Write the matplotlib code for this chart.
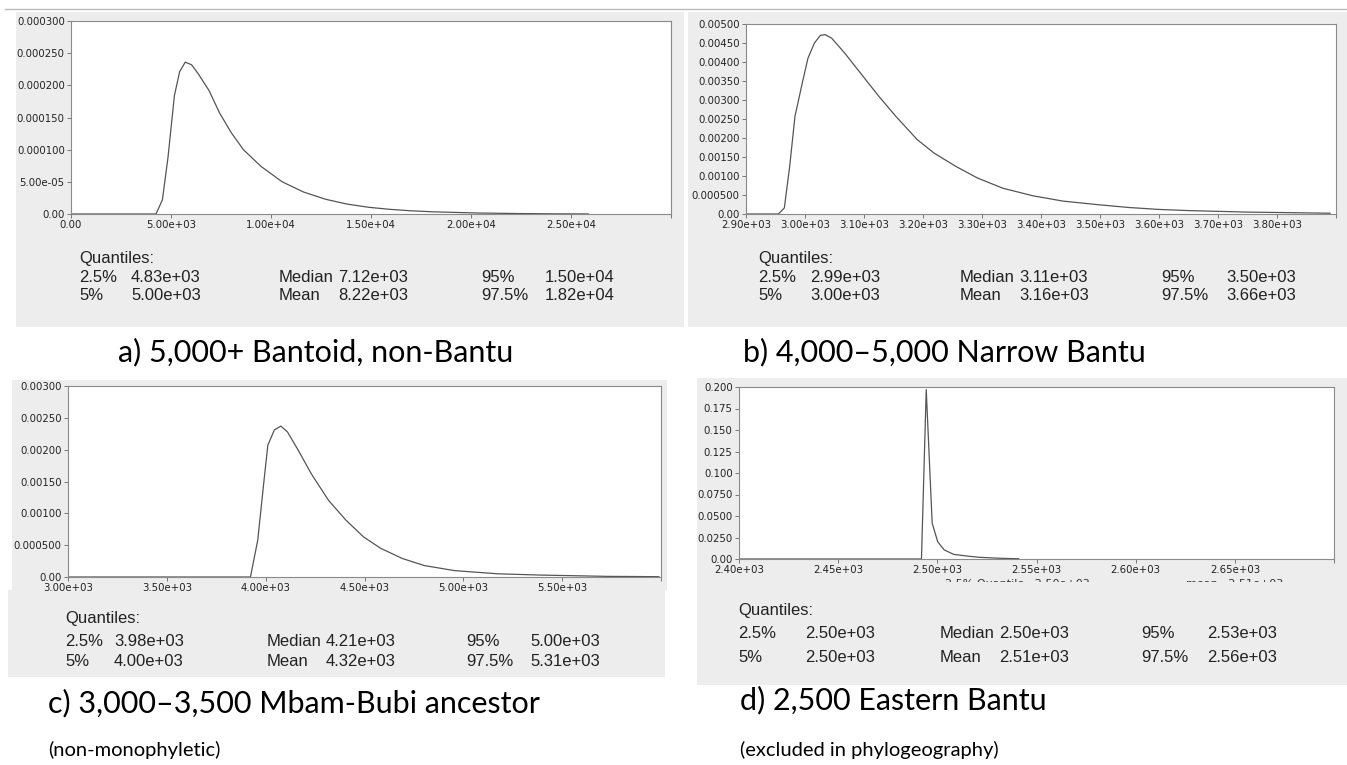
import matplotlib
matplotlib.use('Agg')
import matplotlib.pyplot as plt
from matplotlib.patches import Rectangle
from matplotlib.transforms import Bbox, TransformedBbox

W, H = 1347, 765

# a) 5,000+ Bantoid, non-Bantu
a_years = [0, 4250, 4570, 4850, 5170, 5430, 5710, 6030, 6360, 6900, 7430, 8000, 8620, 9500,
           10560, 11640, 12720, 13790, 14870, 15950, 17000, 18100, 20260, 22410, 24000, 25860]
a_density = [0, 0, 2.2e-5, 8.8e-5, 1.84e-4, 2.21e-4, 2.36e-4, 2.32e-4, 2.18e-4, 1.92e-4, 1.57e-4,
             1.27e-4, 1.00e-4, 7.4e-5, 5.0e-5, 3.4e-5, 2.3e-5, 1.55e-5, 1.05e-5, 7.2e-6, 5.0e-6,
             3.4e-6, 1.6e-6, 7e-7, 3e-7, 1e-7]
a_xticks = [0, 5000, 10000, 15000, 20000, 25000, 30000]
a_xlabels = ['0.00', '5.00e+03', '1.00e+04', '1.50e+04', '2.00e+04', '2.50e+04', '']
a_yticks = [0, 5e-5, 1e-4, 1.5e-4, 2e-4, 2.5e-4, 3e-4]
a_ylabels = ['0.00', '5.00e-05', '0.000100', '0.000150', '0.000200', '0.000250', '0.000300']
a_quant = [['2.5%', '4.83e+03', 'Median', '7.12e+03', '95%', '1.50e+04'],
           ['5%', '5.00e+03', 'Mean', '8.22e+03', '97.5%', '1.82e+04']]

# b) 4,000-5,000 Narrow Bantu
b_years = [2900, 2955, 2965, 2974, 2983, 2996, 3005, 3016, 3026, 3034, 3045, 3067, 3096, 3125,
           3154, 3190, 3219, 3256, 3292, 3335, 3386, 3437, 3500, 3550, 3600, 3650, 3700, 3750,
           3800, 3890]
b_density = [0, 0, 0.00016, 0.00125, 0.00257, 0.00349, 0.0041, 0.0045, 0.0047, 0.00472, 0.00463,
             0.00424, 0.00367, 0.0031, 0.00257, 0.00196, 0.0016, 0.00125, 0.00095, 0.00068,
             0.00048, 0.00034, 0.00024, 0.00017, 0.00012, 0.00009, 0.00007, 0.00005, 0.00004,
             0.00002]
b_xticks = [2900, 3000, 3100, 3200, 3300, 3400, 3500, 3600, 3700, 3800, 3900]
b_xlabels = ['2.90e+03', '3.00e+03', '3.10e+03', '3.20e+03', '3.30e+03', '3.40e+03',
             '3.50e+03', '3.60e+03', '3.70e+03', '3.80e+03', '']
b_yticks = [0, 0.0005, 0.001, 0.0015, 0.002, 0.0025, 0.003, 0.0035, 0.004, 0.0045, 0.005]
b_ylabels = ['0.00', '0.000500', '0.00100', '0.00150', '0.00200', '0.00250', '0.00300',
             '0.00350', '0.00400', '0.00450', '0.00500']
b_quant = [['2.5%', '2.99e+03', 'Median', '3.11e+03', '95%', '3.50e+03'],
           ['5%', '3.00e+03', 'Mean', '3.16e+03', '97.5%', '3.66e+03']]

# c) 3,000-3,500 Mbam-Bubi ancestor
c_years = [3000, 3923, 3960, 3989, 4011, 4044, 4077, 4110, 4165, 4231, 4319, 4407, 4495, 4582,
           4692, 4802, 4956, 5176, 5396, 5725, 5989]
c_density = [0, 0, 0.00058, 0.00144, 0.00207, 0.00231, 0.00237, 0.00228, 0.00199, 0.00162,
             0.0012, 0.00089, 0.00063, 0.00045, 0.00029, 0.00018, 0.0001, 0.00005, 0.00003,
             0.00001, 0.000005]
c_xticks = [3000, 3500, 4000, 4500, 5000, 5500, 6000]
c_xlabels = ['3.00e+03', '3.50e+03', '4.00e+03', '4.50e+03', '5.00e+03', '5.50e+03', '']
c_yticks = [0, 0.0005, 0.001, 0.0015, 0.002, 0.0025, 0.003]
c_ylabels = ['0.00', '0.000500', '0.00100', '0.00150', '0.00200', '0.00250', '0.00300']
c_quant = [['2.5%', '3.98e+03', 'Median', '4.21e+03', '95%', '5.00e+03'],
           ['5%', '4.00e+03', 'Mean', '4.32e+03', '97.5%', '5.31e+03']]

# d) 2,500 Eastern Bantu
d_years = [2400, 2492, 2494.4, 2497.4, 2500.2, 2503.5, 2508.2, 2514.7, 2521, 2532, 2541]
d_density = [0, 0, 0.197, 0.0416, 0.020, 0.0105, 0.0054, 0.0035, 0.002, 0.0008, 0.0003]
d_xticks = [2400, 2450, 2500, 2550, 2600, 2650, 2700]
d_xlabels = ['2.40e+03', '2.45e+03', '2.50e+03', '2.55e+03', '2.60e+03', '2.65e+03', '']
d_yticks = [0, 0.025, 0.05, 0.075, 0.1, 0.125, 0.15, 0.175, 0.2]
d_ylabels = ['0.00', '0.0250', '0.0500', '0.0750', '0.100', '0.125', '0.150', '0.175', '0.200']
d_quant = [['2.5%', '2.50e+03', 'Median', '2.50e+03', '95%', '2.53e+03'],
           ['5%', '2.50e+03', 'Mean', '2.51e+03', '97.5%', '2.56e+03']]

titles = ['a) 5,000+ Bantoid, non-Bantu', 'b) 4,000\u20135,000 Narrow Bantu',
          'c) 3,000\u20133,500 Mbam-Bubi ancestor', 'd) 2,500 Eastern Bantu']
notes = ['(non-monophyletic)', '(excluded in phylogeography)']

GRAY = '#ededed'

fig = plt.figure(figsize=(W / 100, H / 100), dpi=100)
fig.patch.set_facecolor('white')


def px_axes(x0, y0, x1, y1):
    return fig.add_axes([x0 / W, 1 - y1 / H, (x1 - x0) / W, (y1 - y0) / H])


def px_text(x, y, s, **kw):
    return fig.text(x / W, 1 - y / H, s, va='center', **kw)


def px_rect(x0, y0, x1, y1, color=GRAY):
    fig.add_artist(Rectangle((x0 / W, 1 - y1 / H), (x1 - x0) / W, (y1 - y0) / H,
                             transform=fig.transFigure, color=color, lw=0, zorder=-1))


def density_plot(box, years, dens, xticks, xlabels, yticks, ylabels):
    ax = px_axes(*box)
    ax.set_facecolor('white')
    ax.plot(years, dens, color='#555555', lw=0.9)
    ax.set_xlim(xticks[0], xticks[-1])
    ax.set_ylim(yticks[0], yticks[-1])
    ax.set_xticks(xticks)
    ax.set_xticklabels(xlabels)
    ax.set_yticks(yticks)
    ax.set_yticklabels(ylabels)
    ax.tick_params(direction='out', length=3, width=0.7, color='#777777', pad=1.5,
                   labelsize=7.3, labelcolor='#222222')
    for sp in ax.spines.values():
        sp.set_color('#8a8a8a')
        sp.set_linewidth(0.8)
    return ax


def quantiles(x_cols, y_rows, rows):
    px_text(x_cols[0], y_rows[0], 'Quantiles:', family='Liberation Sans', fontsize=12, color='#222222')
    for r, row in enumerate(rows):
        for c, s in enumerate(row):
            px_text(x_cols[c], y_rows[r + 1], s, family='Liberation Sans', fontsize=12, color='#222222')


# top separator line
fig.add_artist(plt.Line2D([5 / W, 1], [1 - 9 / H, 1 - 9 / H], transform=fig.transFigure,
                          color='#bbbbbb', lw=1))

# gray backgrounds
px_rect(16, 12, 684, 327)
px_rect(688, 12, 1347, 327)
px_rect(12, 380, 667, 590)
px_rect(8, 590, 665, 677)
px_rect(697, 378, 1347, 685)

density_plot((71, 21, 671, 214), a_years, a_density, a_xticks, a_xlabels, a_yticks, a_ylabels)
density_plot((746, 24, 1336, 214), b_years, b_density, b_xticks, b_xlabels, b_yticks, b_ylabels)
density_plot((68, 386, 661, 577), c_years, c_density, c_xticks, c_xlabels, c_yticks, c_ylabels)
density_plot((739, 387, 1334, 559), d_years, d_density, d_xticks, d_xlabels, d_yticks, d_ylabels)

quantiles([79, 131, 279, 338, 481, 545], [258, 277, 296], a_quant)
quantiles([758, 810, 960, 1019, 1161, 1226], [258, 277, 296], b_quant)
quantiles([65, 114, 267, 326, 466, 530], [618, 641, 662], c_quant)
quantiles([738, 805, 940, 999, 1141, 1207], [610, 634, 657], d_quant)

# cut-off text row under panel d
clip = TransformedBbox(Bbox.from_extents(697 / W, 1 - 582 / H, 1, 1 - 576 / H), fig.transFigure)
for x, s in [(945, '2.5% Quantile   2.50e+03'), (1186, 'mean   2.51e+03')]:
    t = px_text(x, 584, s, fontsize=8, color='#333333')
    t.set_clip_box(clip)
    t.set_clip_on(True)

# panel captions
px_text(118, 352, titles[0], family='Lato', fontsize=22, color='black')
px_text(743, 352, titles[1], family='Lato', fontsize=22, color='black')
px_text(48, 703, titles[2], family='Lato', fontsize=22, color='black')
px_text(740, 700, titles[3], family='Lato', fontsize=22, color='black')
px_text(48, 750, notes[0], family='Lato', fontsize=14.5, color='black')
px_text(740, 750, notes[1], family='Lato', fontsize=14.5, color='black')

fig.savefig('out.png', dpi=100)
